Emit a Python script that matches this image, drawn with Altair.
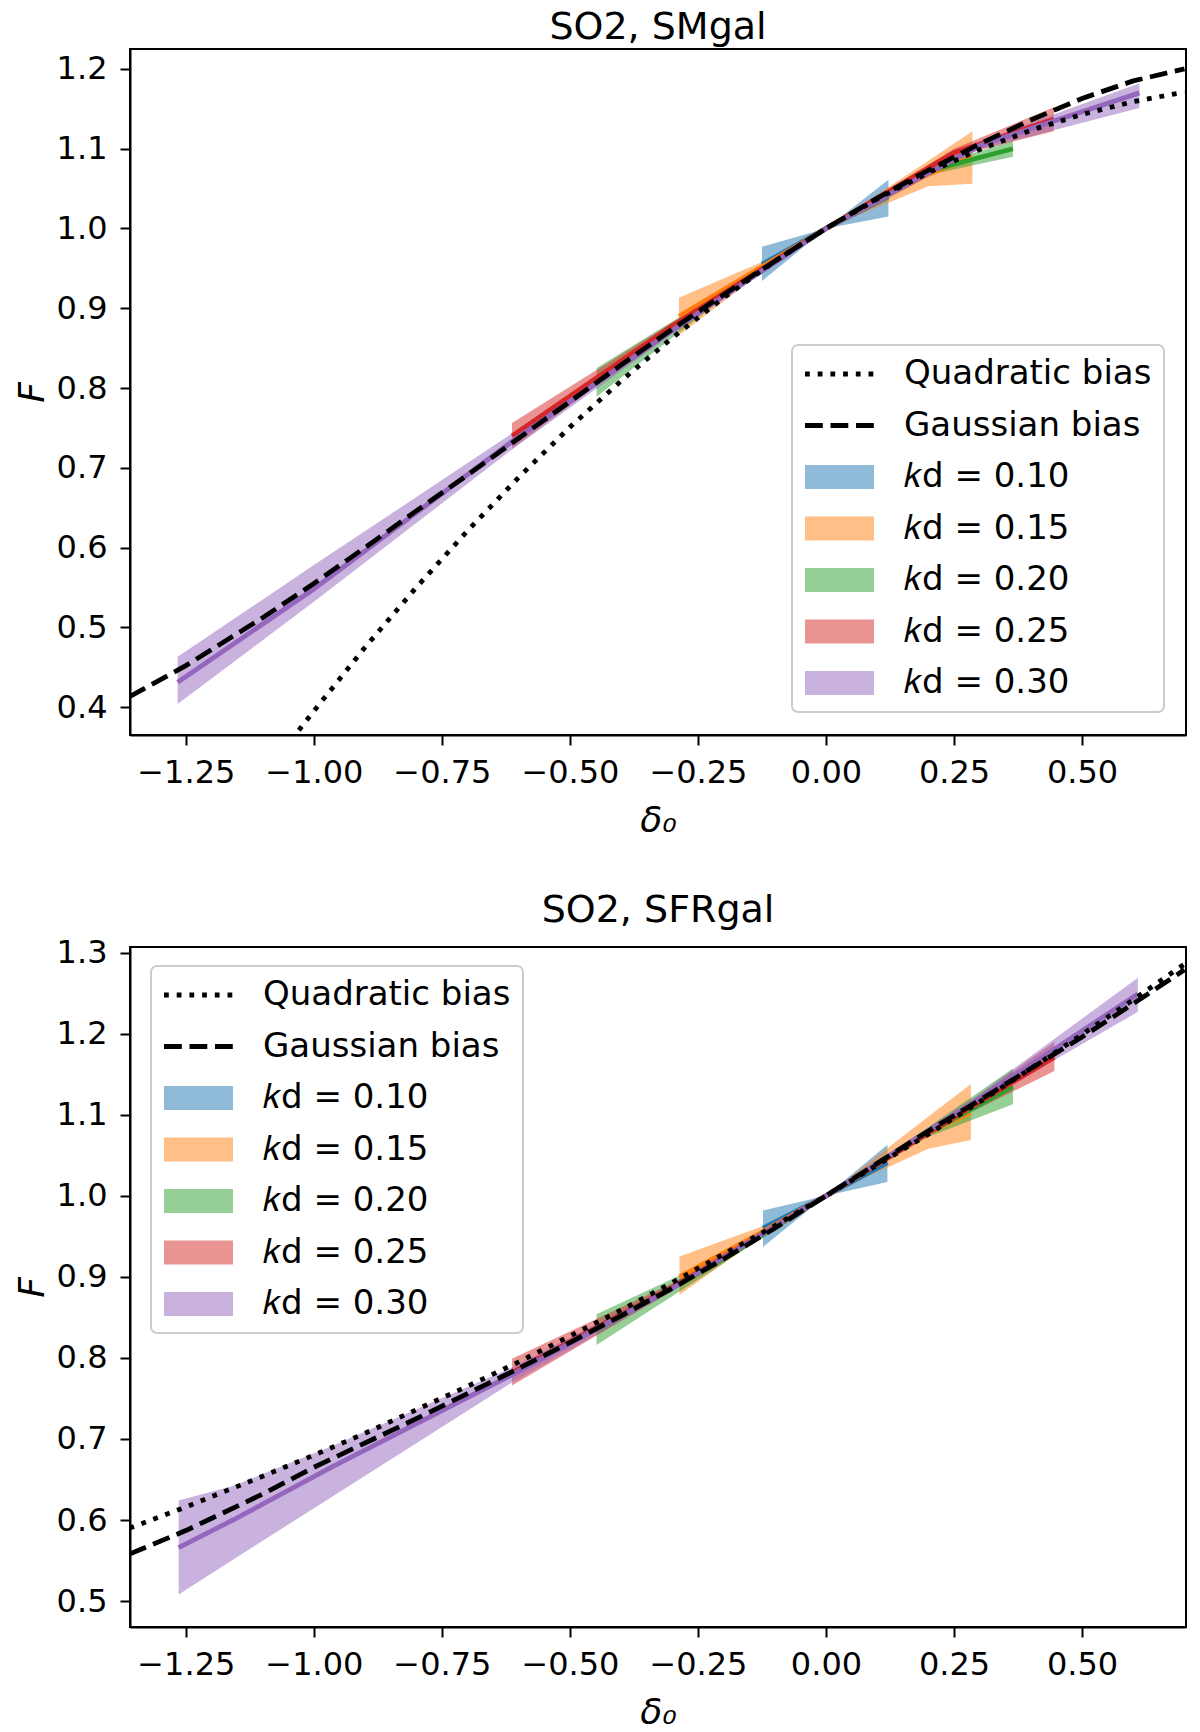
import altair as alt
import pandas as pd

FONT = "DejaVu Sans"

QUAD = "Quadratic bias"
GAUSS = "Gaussian bias"
K_LABELS = ["𝑘d = 0.10", "𝑘d = 0.15", "𝑘d = 0.20", "𝑘d = 0.25", "𝑘d = 0.30"]
SERIES_ORDER = [QUAD, GAUSS] + K_LABELS

# matplotlib tab10 colours, and the same at alpha 0.5 for the bands
LINE_COLORS = ["#1f77b4", "#ff7f0e", "#2ca02c", "#d62728", "#9467bd"]
BAND_FILLS = ["rgba(31,119,180,0.5)", "rgba(255,127,14,0.5)", "rgba(44,160,44,0.5)",
              "rgba(214,39,40,0.5)", "rgba(148,103,189,0.5)"]

X_DOMAIN = [-1.359, 0.703]
X_TICKS = [-1.25, -1.0, -0.75, -0.5, -0.25, 0.0, 0.25, 0.5]

# --- SO2, SMgal ---
SM_QUAD_D = [-1.06, -1.0, -0.9, -0.8, -0.7, -0.6, -0.5, -0.4, -0.3, -0.2, -0.1,
             0.0, 0.1, 0.2, 0.3, 0.4, 0.5, 0.6, 0.7]
SM_QUAD_F = [0.346, 0.395, 0.475, 0.550, 0.621, 0.688, 0.751, 0.809, 0.863, 0.913, 0.959,
             1.0, 1.037, 1.070, 1.099, 1.123, 1.143, 1.159, 1.171]
SM_GAUSS_D = [-1.36, -1.25, -1.1, -1.0, -0.9, -0.8, -0.7, -0.6, -0.5, -0.4, -0.3, -0.2, -0.1,
              0.0, 0.1, 0.2, 0.3, 0.4, 0.5, 0.6, 0.7]
SM_GAUSS_F = [0.413, 0.452, 0.512, 0.555, 0.600, 0.646, 0.691, 0.737, 0.783, 0.829, 0.874, 0.917, 0.959,
              1.0, 1.038, 1.073, 1.106, 1.136, 1.163, 1.185, 1.200]
# (delta0, centre, lower, upper)
SM_K010 = [(-0.125, 0.955, 0.934, 0.977), (0.0, 1.0, 1.0, 1.0), (0.122, 1.040, 1.015, 1.061)]
SM_K015 = [(-0.287, 0.890, 0.866, 0.913), (-0.125, 0.952, 0.945, 0.958), (0.0, 1.0, 1.0, 1.0),
           (0.2, 1.068, 1.053, 1.085), (0.286, 1.090, 1.056, 1.122)]
SM_K020 = [(-0.448, 0.808, 0.789, 0.825), (-0.2, 0.918, 0.913, 0.923), (0.0, 1.0, 1.0, 1.0),
           (0.2, 1.072, 1.067, 1.077), (0.365, 1.100, 1.090, 1.110)]
SM_K025 = [(-0.613, 0.740, 0.724, 0.756), (-0.3, 0.878, 0.874, 0.882), (0.0, 1.0, 1.0, 1.0),
           (0.25, 1.095, 1.090, 1.100), (0.445, 1.137, 1.122, 1.152)]
SM_K030 = [(-1.266, 0.431, 0.404, 0.463), (-1.0, 0.548, 0.532, 0.578), (-0.613, 0.733, 0.723, 0.743),
           (-0.3, 0.872, 0.868, 0.877), (0.0, 1.0, 1.0, 1.0), (0.3, 1.104, 1.099, 1.109),
           (0.612, 1.170, 1.151, 1.182)]
SM_Y_DOMAIN = [0.365, 1.225]
SM_Y_TICKS = [0.4, 0.5, 0.6, 0.7, 0.8, 0.9, 1.0, 1.1, 1.2]

# --- SO2, SFRgal ---
SFR_QUAD_D = SM_GAUSS_D
SFR_QUAD_F = [0.590, 0.616, 0.654, 0.680, 0.707, 0.736, 0.765, 0.795, 0.827, 0.859, 0.893, 0.928, 0.963,
              1.0, 1.038, 1.076, 1.116, 1.157, 1.199, 1.242, 1.286]
SFR_GAUSS_D = SM_GAUSS_D
SFR_GAUSS_F = [0.558, 0.587, 0.632, 0.665, 0.695, 0.725, 0.756, 0.787, 0.819, 0.852, 0.886, 0.922, 0.960,
               1.0, 1.040, 1.080, 1.118, 1.157, 1.196, 1.237, 1.279]
SFR_K010 = [(-0.123, 0.960, 0.937, 0.982), (0.0, 1.0, 1.0, 1.0), (0.120, 1.041, 1.017, 1.063)]
SFR_K015 = [(-0.286, 0.900, 0.878, 0.925), (-0.125, 0.955, 0.950, 0.962), (0.0, 1.0, 1.0, 1.0),
            (0.2, 1.078, 1.058, 1.098), (0.283, 1.103, 1.069, 1.138)]
SFR_K020 = [(-0.448, 0.835, 0.816, 0.854), (-0.2, 0.922, 0.917, 0.927), (0.0, 1.0, 1.0, 1.0),
            (0.2, 1.078, 1.073, 1.085), (0.365, 1.135, 1.113, 1.157)]
SFR_K025 = [(-0.613, 0.782, 0.766, 0.799), (-0.3, 0.887, 0.883, 0.892), (0.0, 1.0, 1.0, 1.0),
            (0.25, 1.097, 1.093, 1.102), (0.446, 1.171, 1.154, 1.190)]
SFR_K030 = [(-1.264, 0.566, 0.508, 0.624), (-1.158, 0.600, 0.551, 0.642), (-0.969, 0.664, 0.627, 0.690),
            (-0.617, 0.778, 0.768, 0.787), (-0.3, 0.886, 0.882, 0.890), (0.0, 1.0, 1.0, 1.0),
            (0.3, 1.120, 1.114, 1.126), (0.609, 1.249, 1.227, 1.269)]
SFR_Y_DOMAIN = [0.468, 1.307]
SFR_Y_TICKS = [0.5, 0.6, 0.7, 0.8, 0.9, 1.0, 1.1, 1.2, 1.3]


def band_frame(bands):
    rows = []
    for label, pts in zip(K_LABELS, bands):
        for d, mid, lo, hi in pts:
            rows.append({"delta": d, "mid": mid, "lo": lo, "hi": hi, "series": label})
    return pd.DataFrame(rows)


def bias_frame(quad_d, quad_f, gauss_d, gauss_f):
    q = pd.DataFrame({"delta": quad_d, "F": quad_f, "series": QUAD})
    g = pd.DataFrame({"delta": gauss_d, "F": gauss_f, "series": GAUSS})
    return pd.concat([q, g], ignore_index=True)


def bias_legend(x, y):
    # one legend box: dotted / dashed strokes, then thick translucent strokes as band swatches
    return alt.Legend(
        title=None, orient="none", legendX=x, legendY=y,
        symbolType="M-6.9,0H6.9", symbolSize=100, symbolOffset=18.5,
        labelOffset=47.5, labelFont=FONT, labelFontSize=34, labelColor="black", labelLimit=400,
        clipHeight=34, rowPadding=17.5, padding=12, cornerRadius=6,
        fillColor="white", strokeColor="#cccccc",
    )


def make_panel(title, title_offset, height, bands, bias, y_domain, y_ticks, legend_xy):
    x_enc = alt.X("delta:Q", scale=alt.Scale(domain=X_DOMAIN, nice=False, zero=False),
                  axis=alt.Axis(values=X_TICKS, format=".2f", title="δ₀", titleFontStyle="italic",
                                labelPadding=12, titlePadding=15))
    y_scale = alt.Scale(domain=y_domain, nice=False, zero=False)
    y_axis = alt.Axis(values=y_ticks, format=".1f", title="F", titleFontStyle="italic",
                      labelPadding=13, titlePadding=5)

    areas = alt.Chart(bands).mark_area(clip=True).encode(
        x=x_enc,
        y=alt.Y("lo:Q", scale=y_scale, axis=y_axis),
        y2="hi:Q",
        fill=alt.Fill("series:N", scale=alt.Scale(domain=K_LABELS, range=BAND_FILLS), legend=None),
    )
    centres = alt.Chart(bands).mark_line(clip=True, strokeWidth=4.8).encode(
        x=x_enc,
        y=alt.Y("mid:Q", scale=y_scale, axis=y_axis),
        color=alt.Color("series:N", scale=alt.Scale(domain=K_LABELS, range=LINE_COLORS), legend=None),
    )
    leg = bias_legend(*legend_xy)
    lines = alt.Chart(bias).mark_line(clip=True).encode(
        x=x_enc,
        y=alt.Y("F:Q", scale=y_scale, axis=y_axis),
        stroke=alt.Stroke("series:N", legend=leg,
                          scale=alt.Scale(domain=SERIES_ORDER, range=["black", "black"] + BAND_FILLS)),
        strokeDash=alt.StrokeDash("series:N", legend=leg,
                                  scale=alt.Scale(domain=SERIES_ORDER,
                                                  range=[[4.8, 7.9], [17.8, 7.7]] + [[1, 0]] * 5)),
        strokeWidth=alt.StrokeWidth("series:N", legend=leg,
                                    scale=alt.Scale(type="ordinal", domain=SERIES_ORDER,
                                                    range=[4.8, 4.8] + [24] * 5)),
    )
    return alt.layer(areas, centres, lines).properties(
        width=1056, height=height,
        title=alt.TitleParams(title, anchor="middle", offset=title_offset),
    )


top = make_panel(
    "SO2, SMgal", 2, 686,
    band_frame([SM_K010, SM_K015, SM_K020, SM_K025, SM_K030]),
    bias_frame(SM_QUAD_D, SM_QUAD_F, SM_GAUSS_D, SM_GAUSS_F),
    SM_Y_DOMAIN, SM_Y_TICKS, (662, 296),
)
bottom = make_panel(
    "SO2, SFRgal", 7, 680,
    band_frame([SFR_K010, SFR_K015, SFR_K020, SFR_K025, SFR_K030]),
    bias_frame(SFR_QUAD_D, SFR_QUAD_F, SFR_GAUSS_D, SFR_GAUSS_F),
    SFR_Y_DOMAIN, SFR_Y_TICKS, (21, 19),
)

chart = alt.vconcat(top, bottom, spacing=51).resolve_scale(
    fill="independent", color="independent", stroke="independent",
    strokeDash="independent", strokeWidth="independent",
).properties(
    padding={"left": 5, "top": 0, "right": 0, "bottom": 0}
).configure_view(
    stroke="black", strokeWidth=2
).configure_axis(
    domainColor="black", domainWidth=2, tickColor="black", tickWidth=2, tickSize=10,
    labelFont=FONT, labelFontSize=32, labelColor="black", labelFlush=False,
    titleFont=FONT, titleFontSize=36, titleFontWeight="normal", titleColor="black", grid=False,
).configure_title(
    font=FONT, fontSize=38, fontWeight="normal", color="black"
).configure_legend(
    strokeWidth=2
)

chart.save("out.html", embed_options={"renderer": "svg", "actions": False})
